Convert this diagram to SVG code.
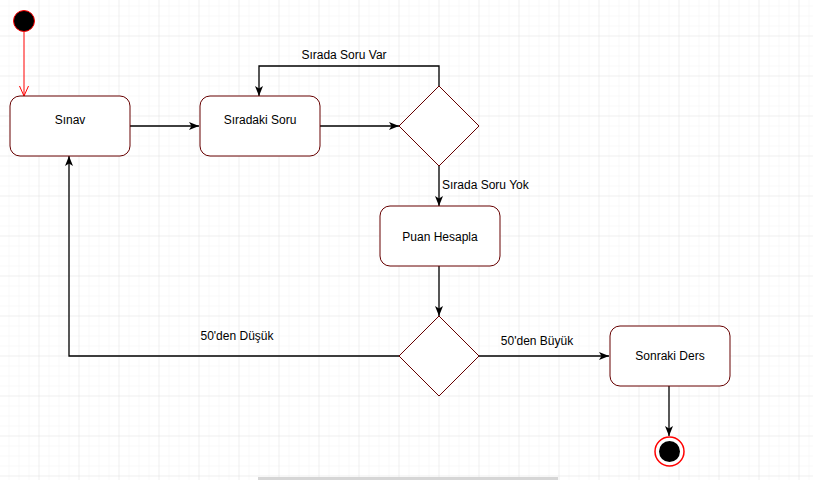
<svg xmlns="http://www.w3.org/2000/svg" width="813" height="480" viewBox="0 0 813 480">
<defs>
<pattern id="minor" x="-0.5" y="-3.5" width="10" height="10" patternUnits="userSpaceOnUse">
<path d="M10 0V10M0 10H10" fill="none" stroke="#f2f2f2" stroke-width="1"/>
</pattern>
<pattern id="major" x="-0.5" y="-3.5" width="40" height="40" patternUnits="userSpaceOnUse">
<path d="M40 0V40M0 40H40" fill="none" stroke="#e6e6e6" stroke-width="1"/>
</pattern>
<marker id="arr" viewBox="0 0 10 10" refX="10" refY="5" markerWidth="10" markerHeight="10" markerUnits="userSpaceOnUse" orient="auto">
<path d="M0,1 L10,5 L0,9 L2.5,5 Z" fill="#000"/>
</marker>
<marker id="open" viewBox="0 0 12 12" refX="11" refY="6" markerWidth="12" markerHeight="12" markerUnits="userSpaceOnUse" orient="auto">
<path d="M1,1.5 L11,6 L1,10.5" fill="none" stroke="#ff0000" stroke-width="1"/>
</marker>
</defs>
<style>
.node rect, .node polygon { fill:#fff; stroke:#660000; stroke-width:1; }
text { font-family:"Liberation Sans", Arial, sans-serif; font-size:12px; fill:#000; }
.c { text-anchor:middle; dominant-baseline:central; }
.edge { fill:none; stroke:#000; stroke-width:1.3; marker-end:url(#arr); }
</style>
<rect width="813" height="480" fill="#fff"/>
<rect width="813" height="480" fill="url(#minor)"/>
<rect width="813" height="480" fill="url(#major)"/>
<rect x="258" y="477" width="300" height="3" fill="#d6d6d6"/>

<g id="connectors">
<path d="M24,32 V96" fill="none" stroke="#ff0000" stroke-width="1" marker-end="url(#open)"/>
<path class="edge" d="M130,126 H199"/>
<path class="edge" d="M320,126 H399"/>
<path class="edge" d="M439,86 V66 H259 V96"/>
<path class="edge" d="M439,166 V206"/>
<path class="edge" d="M439,266 V316"/>
<path class="edge" d="M399,356 H69 V156"/>
<path class="edge" d="M479,356 H609"/>
<path class="edge" d="M669,386 V436"/>
<text x="344" y="55" class="c">Sırada Soru Var</text>
<text x="442" y="185" dominant-baseline="central">Sırada Soru Yok</text>
<text x="237" y="336" class="c">50'den Düşük</text>
<text x="537" y="341" class="c">50'den Büyük</text>
</g>

<g id="start">
<circle cx="24" cy="21" r="10.5" fill="#000" stroke="#ff0000" stroke-width="1"/>
</g>
<g id="sinav" class="node">
<rect x="10" y="96" width="120" height="60" rx="10"/>
<text x="70" y="120" class="c">Sınav</text>
</g>
<g id="siradaki" class="node">
<rect x="200" y="96" width="120" height="60" rx="10"/>
<text x="260" y="120" class="c">Sıradaki Soru</text>
</g>
<g id="karar1" class="node">
<polygon points="439,86 479,126 439,166 399,126"/>
</g>
<g id="puan" class="node">
<rect x="380" y="206" width="120" height="60" rx="10"/>
<text x="440" y="237" class="c">Puan Hesapla</text>
</g>
<g id="karar2" class="node">
<polygon points="439,316 479,356 439,396 399,356"/>
</g>
<g id="sonraki" class="node">
<rect x="610" y="326" width="120" height="60" rx="10"/>
<text x="670" y="356" class="c">Sonraki Ders</text>
</g>
<g id="end">
<circle cx="669.5" cy="451.5" r="14.5" fill="#fff" stroke="#ff0000" stroke-width="1.5"/>
<circle cx="669.5" cy="451.5" r="10.5" fill="#000"/>
</g>
</svg>
